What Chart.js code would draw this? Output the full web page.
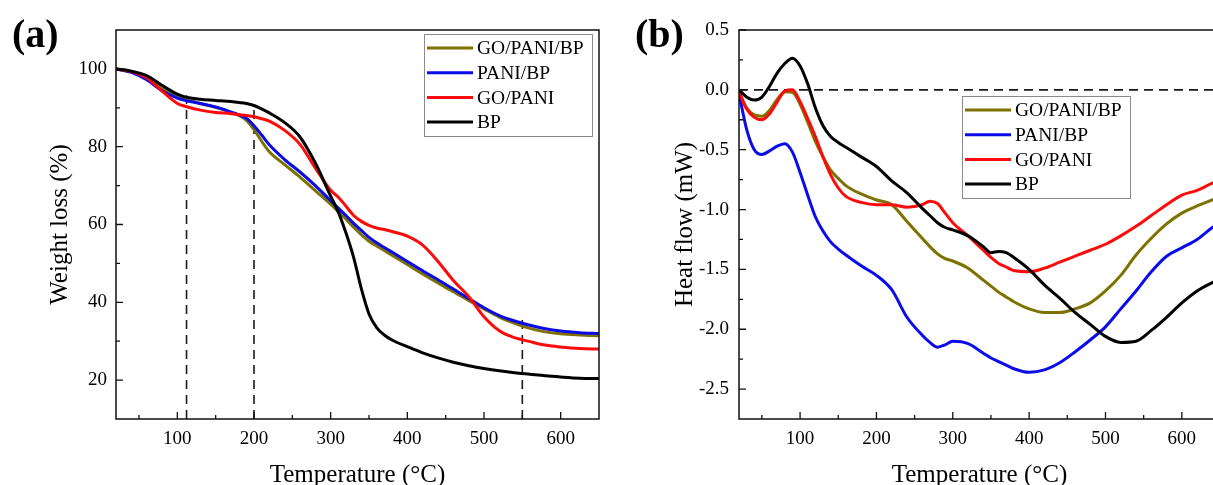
<!DOCTYPE html>
<html>
<head>
<meta charset="utf-8">
<script src="https://cdn.jsdelivr.net/npm/chart.js@4.4.0/dist/chart.umd.min.js"></script>
<style>
  html, body { margin: 0; padding: 0; background: #fff; overflow: hidden; }
  #wrap { position: relative; width: 1213px; height: 485px; overflow: hidden; }
  #tga { position: absolute; left: 0; top: 0; }
  #dsc { position: absolute; left: 610px; top: 0; }
</style>
</head>
<body>
<div id="wrap">
  <canvas id="tga" width="610" height="485"></canvas>
  <canvas id="dsc" width="620" height="485"></canvas>
</div>
<script>
// series names and colours (same order in both panels)
const seriesLabels = ['GO/PANI/BP', 'PANI/BP', 'GO/PANI', 'BP'];
const seriesColors = ['#7d7200', '#0b0bea', '#ff0a0a', '#000000'];

// (a) TGA, weight loss (%)
const tgaTemp = [20, 40, 60, 80, 100, 110, 130, 150, 170, 190, 200, 210, 220, 240, 260, 280, 300, 310, 320, 330,
  340, 350, 360, 370, 380, 400, 420, 440, 460, 480, 500, 520, 540, 560, 580, 600, 625, 650];
const tgaGoPaniBp = [100, 99.3, 97.8, 94.9, 93.1, 92.4, 91.1, 90.1, 88.9, 86.8, 84.4, 81.4, 78.7, 75.4, 72.2, 68.7, 65.2, 63.3, 61.4, 59.3,
  57.4, 55.7, 54.5, 53.3, 52.1, 49.7, 47.3, 45, 42.7, 40.5, 38.3, 36.2, 34.6, 33.3, 32.4, 31.9, 31.6, 31.4];
const tgaPaniBp = [100, 99.1, 97.2, 94.4, 92.5, 91.9, 91.1, 90.2, 88.9, 87.3, 85.4, 83, 80.5, 76.7, 73.5, 70, 66.1, 64.2, 62.3, 60.3,
  58.5, 56.7, 55.3, 54.1, 52.9, 50.5, 48.1, 45.8, 43.4, 41, 38.6, 36.6, 35.2, 34.1, 33.2, 32.6, 32.2, 32];
const tgaGoPani = [100, 99.3, 97.7, 94.3, 91.1, 90.4, 89.4, 88.8, 88.5, 88, 87.7, 87.2, 86.6, 84.2, 80.6, 74.5, 68.8, 67, 64.7, 62.3,
  60.8, 59.8, 59.1, 58.7, 58.2, 57, 54.7, 50.5, 45.6, 41.5, 36.3, 32.7, 30.9, 29.9, 29.0, 28.5, 28.1, 28];
const tgaBp = [100, 99.4, 98.3, 95.8, 93.5, 92.8, 92.2, 91.9, 91.6, 91.1, 90.6, 89.7, 88.7, 86.2, 82.5, 75.8, 67.3, 63.2, 57.8, 51.5,
  43.5, 37, 33.5, 31.6, 30.3, 28.6, 27, 25.7, 24.6, 23.7, 23, 22.4, 21.9, 21.5, 21.1, 20.8, 20.5, 20.4];
// dashed guide lines in (a): temperature and the height they reach
const tgaMarkTemp = [112, 200, 550];
const tgaMarkTop = [93.2, 90.6, 35.6];

// (b) DSC, heat flow (mW)
const dscTemp = [20, 30, 40, 50, 60, 70, 80, 90, 100, 110, 120, 130, 140, 150, 160, 180, 200, 220, 240, 260, 270, 280,
  290, 300, 320, 340, 350, 360, 370, 380, 400, 420, 440, 460, 480, 500, 520, 540, 560, 580, 600, 620, 640, 650];
const dscGoPaniBp = [-0.02, -0.15, -0.21, -0.22, -0.17, -0.08, -0.015, -0.02, -0.12, -0.27, -0.43, -0.56, -0.67, -0.74, -0.8, -0.87,
  -0.92, -0.96, -1.1, -1.24, -1.31, -1.37, -1.41, -1.43, -1.49, -1.59, -1.64, -1.69, -1.73, -1.77, -1.83, -1.86, -1.86, -1.83,
  -1.78, -1.68, -1.55, -1.38, -1.24, -1.12, -1.03, -0.97, -0.92, -0.89];
const dscPaniBp = [-0.03, -0.33, -0.5, -0.54, -0.51, -0.47, -0.45, -0.52, -0.69, -0.88, -1.06, -1.18, -1.27, -1.33, -1.38, -1.47,
  -1.55, -1.67, -1.9, -2.05, -2.11, -2.15, -2.13, -2.1, -2.12, -2.2, -2.24, -2.27, -2.3, -2.33, -2.36, -2.34, -2.28, -2.19,
  -2.09, -1.98, -1.83, -1.68, -1.52, -1.39, -1.32, -1.25, -1.15, -1.11];
const dscGoPani = [-0.02, -0.16, -0.23, -0.25, -0.2, -0.1, -0.01, 0.0, -0.1, -0.24, -0.39, -0.56, -0.71, -0.82, -0.89, -0.94,
  -0.96, -0.96, -0.98, -0.96, -0.93, -0.95, -1.03, -1.11, -1.22, -1.34, -1.4, -1.45, -1.48, -1.51, -1.52, -1.49, -1.44, -1.39,
  -1.34, -1.29, -1.22, -1.14, -1.05, -0.96, -0.88, -0.84, -0.78, -0.76];
const dscBp = [0, -0.06, -0.085, -0.06, 0.03, 0.14, 0.22, 0.265, 0.2, 0.05, -0.15, -0.3, -0.39, -0.44, -0.48, -0.56,
  -0.64, -0.76, -0.86, -0.99, -1.05, -1.11, -1.15, -1.17, -1.22, -1.31, -1.36, -1.35, -1.36, -1.4, -1.5, -1.63, -1.74, -1.86,
  -1.96, -2.06, -2.11, -2.1, -2.01, -1.9, -1.78, -1.68, -1.61, -1.58];

// tick values
const xTicks = [100, 200, 300, 400, 500, 600];
const xMinor = [50, 150, 250, 350, 450, 550];
const tgaTicks = [20, 40, 60, 80, 100];
const tgaMinor = [30, 50, 70, 90];
const dscTicks = [0.5, 0, -0.5, -1, -1.5, -2, -2.5];
const dscMinor = [0.25, -0.25, -0.75, -1.25, -1.75, -2.25];

const serif = '"Liberation Serif", "Times New Roman", serif';
Chart.defaults.font.family = serif;
Chart.defaults.color = '#000';

// frame, inward ticks, panel letter and the boxed legend
const framePlugin = {
  id: 'frame',
  afterDatasetsDraw(chart, args, opts) {
    const { ctx, chartArea: a, scales: { x, y } } = chart;
    ctx.save();
    ctx.strokeStyle = '#111';
    ctx.lineWidth = 1.5;
    ctx.strokeRect(a.left, a.top, a.right - a.left, a.bottom - a.top);

    ctx.lineWidth = 1.3;
    ctx.beginPath();
    const xt = (vals, len) => vals.forEach(v => {
      const p = x.getPixelForValue(v);
      ctx.moveTo(p, a.bottom); ctx.lineTo(p, a.bottom - len);
    });
    const yt = (vals, len) => vals.forEach(v => {
      const p = y.getPixelForValue(v);
      ctx.moveTo(a.left, p); ctx.lineTo(a.left + len, p);
    });
    xt(x.ticks.map(t => t.value), 7);
    xt(opts.xMinor, 4);
    yt(y.ticks.map(t => t.value), 7);
    yt(opts.yMinor, 4);
    ctx.stroke();

    ctx.fillStyle = '#000';
    ctx.font = 'bold 40px ' + serif;
    ctx.textBaseline = 'alphabetic';
    ctx.textAlign = 'left';
    ctx.fillText(opts.letter, opts.letterX, 47);

    // legend
    const bx = opts.legendLeft(a), by = opts.legendTop(a);
    ctx.fillStyle = '#fff';
    ctx.fillRect(bx, by, 168, 102);
    ctx.strokeStyle = '#8a8a8a';
    ctx.lineWidth = 1;
    ctx.strokeRect(bx + 0.5, by + 0.5, 168, 102);
    ctx.font = '19.5px ' + serif;
    ctx.textBaseline = 'middle';
    chart.data.datasets.filter(d => !d.isMark).forEach((d, i) => {
      const ry = by + 14 + i * 24.7;
      ctx.strokeStyle = d.borderColor;
      ctx.lineWidth = 3;
      ctx.beginPath();
      ctx.moveTo(bx + 3, ry); ctx.lineTo(bx + 49, ry);
      ctx.stroke();
      ctx.fillStyle = '#000';
      ctx.fillText(d.label, bx + 53, ry + 1);
    });
    ctx.restore();
  }
};

function curveSets(temp, seriesList) {
  return seriesList.map((vals, i) => ({
    label: seriesLabels[i],
    data: vals.map((v, k) => ({ x: temp[k], y: v })),
    borderColor: seriesColors[i],
    borderWidth: 3,
    pointRadius: 0,
    cubicInterpolationMode: 'monotone',
    order: 3 - i
  }));
}

function markSet(points) {
  return {
    isMark: true,
    data: points,
    borderColor: '#1a1a1a',
    borderWidth: 1.6,
    borderDash: [9, 6],
    pointRadius: 0,
    tension: 0,
    order: 10
  };
}

function axisX() {
  return {
    type: 'linear', min: 20, max: 650,
    grid: { display: false, drawTicks: false },
    border: { display: false },
    afterBuildTicks: s => { s.ticks = xTicks.map(v => ({ value: v })); },
    afterFit: s => { s.height = 66; },
    ticks: { padding: 9, font: { size: 19 }, maxRotation: 0, autoSkip: false },
    title: { display: true, text: 'Temperature (°C)', font: { size: 25, lineHeight: 1 }, padding: { top: 0, bottom: -3 } }
  };
}

const tgaDatasets = curveSets(tgaTemp, [tgaGoPaniBp, tgaPaniBp, tgaGoPani, tgaBp]);
tgaMarkTemp.forEach((t, i) => tgaDatasets.push(markSet([{ x: t, y: 10 }, { x: t, y: tgaMarkTop[i] }])));

new Chart(document.getElementById('tga'), {
  type: 'line',
  data: { datasets: tgaDatasets },
  plugins: [framePlugin],
  options: {
    responsive: false,
    animation: false,
    layout: { autoPadding: false, padding: { left: 0, right: 11, top: 30, bottom: 0 } },
    scales: {
      x: axisX(),
      y: {
        type: 'linear', min: 10, max: 110,
        grid: { display: false, drawTicks: false },
        border: { display: false },
        afterBuildTicks: s => { s.ticks = tgaTicks.map(v => ({ value: v })); },
        afterFit: s => { s.width = 116; },
        ticks: { padding: 9, font: { size: 19 } },
        title: { display: true, text: 'Weight loss (%)', font: { size: 25, lineHeight: 1 }, padding: { top: 48, bottom: 0 } }
      }
    },
    plugins: {
      legend: { display: false },
      tooltip: { enabled: false },
      frame: {
        xMinor: xMinor, yMinor: tgaMinor, letter: '(a)', letterX: 12,
        legendLeft: a => a.right - 175, legendTop: a => a.top + 4
      }
    }
  }
});

const dscDatasets = curveSets(dscTemp, [dscGoPaniBp, dscPaniBp, dscGoPani, dscBp]);
dscDatasets.push(markSet([{ x: 20, y: 0 }, { x: 650, y: 0 }]));

new Chart(document.getElementById('dsc'), {
  type: 'line',
  data: { datasets: dscDatasets },
  plugins: [framePlugin],
  options: {
    responsive: false,
    animation: false,
    layout: { autoPadding: false, padding: { left: 0, right: 10, top: 30, bottom: 0 } },
    scales: {
      x: axisX(),
      y: {
        type: 'linear', min: -2.75, max: 0.5,
        grid: { display: false, drawTicks: false },
        border: { display: false },
        afterBuildTicks: s => { s.ticks = dscTicks.map(v => ({ value: v })); },
        afterFit: s => { s.width = 129; },
        ticks: { padding: 10, font: { size: 19 }, callback: v => v.toFixed(1) },
        title: { display: true, text: 'Heat flow (mW)', font: { size: 25, lineHeight: 1 }, padding: { top: 63, bottom: 0 } }
      }
    },
    plugins: {
      legend: { display: false },
      tooltip: { enabled: false },
      frame: {
        xMinor: xMinor, yMinor: dscMinor, letter: '(b)', letterX: 25,
        legendLeft: a => a.left + 223, legendTop: a => a.top + 66
      }
    }
  }
});
</script>
</body>
</html>
